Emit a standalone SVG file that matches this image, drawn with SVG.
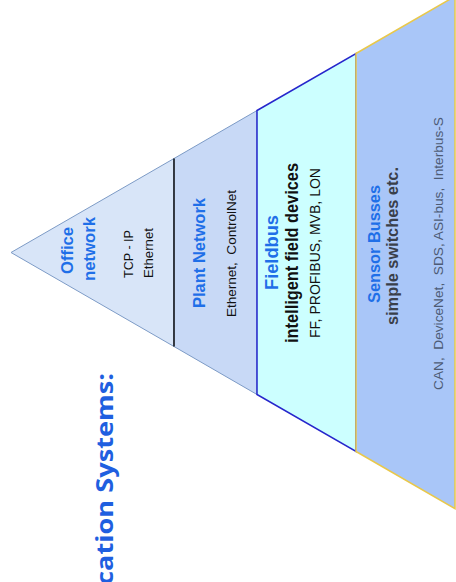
<svg xmlns="http://www.w3.org/2000/svg" width="456" height="582" viewBox="0 0 456 582">
<style>
.t{font-family:"Liberation Sans",Arial,sans-serif;text-anchor:middle}
.h{font-weight:bold;fill:#1f6fe8}
.b{fill:#111}
.g{fill:#4d5b75}
</style>
<rect width="456" height="582" fill="#fff"/>
<g id="office">
<polygon points="11,252.5 174,158.5 174,346.5" fill="#d8e5f8" stroke="#7d9bc6" stroke-width="1"/>
<text class="t h" font-size="16.5" textLength="47" lengthAdjust="spacingAndGlyphs" transform="translate(73,250.5) rotate(-90)">Office</text>
<text class="t h" font-size="16.5" textLength="64" lengthAdjust="spacingAndGlyphs" transform="translate(95,249) rotate(-90)">network</text>
<text class="t b" font-size="13" textLength="48" lengthAdjust="spacingAndGlyphs" transform="translate(133,254) rotate(-90)">TCP - IP</text>
<text class="t b" font-size="13" textLength="50" lengthAdjust="spacingAndGlyphs" transform="translate(153,253) rotate(-90)">Ethernet</text>
</g>
<g id="plant">
<polygon points="174,158.5 257,110.5 257,394.5 174,346.5" fill="#c8d9f6" stroke="#7d9bc6" stroke-width="1"/>
<line x1="174" y1="158.5" x2="174" y2="346.5" stroke="#111" stroke-width="1.5"/>
<text class="t h" font-size="16.5" textLength="110" lengthAdjust="spacingAndGlyphs" transform="translate(205,253) rotate(-90)">Plant Network</text>
<text class="t b" font-size="13.5" textLength="127" lengthAdjust="spacingAndGlyphs" xml:space="preserve" transform="translate(236,253.5) rotate(-90)">Ethernet,  ControlNet</text>
</g>
<g id="fieldbus">
<polygon points="257,110.5 356,53.5 356,451.5 257,394.5" fill="#ccffff" stroke="#2626cc" stroke-width="1.5"/>
<text class="t h" font-size="18.5" textLength="75" lengthAdjust="spacingAndGlyphs" transform="translate(278,252.5) rotate(-90)">Fieldbus</text>
<text class="t b" font-size="18" font-weight="bold" textLength="180" lengthAdjust="spacingAndGlyphs" transform="translate(298,253) rotate(-90)">intelligent field devices</text>
<text class="t b" font-size="14" textLength="170" lengthAdjust="spacingAndGlyphs" transform="translate(320,253) rotate(-90)">FF, PROFIBUS, MVB, LON</text>
</g>
<g id="sensor">
<polygon points="356,53.5 455,-3.7 455,508.7 356,451.5" fill="#a9c6f8" stroke="#e9c84a" stroke-width="1.5"/>
<text class="t h" font-size="16.5" textLength="118" lengthAdjust="spacingAndGlyphs" transform="translate(380,244) rotate(-90)">Sensor Busses</text>
<text class="t" font-size="16.5" font-weight="bold" fill="#3a3f4a" textLength="158" lengthAdjust="spacingAndGlyphs" transform="translate(398,246) rotate(-90)">simple switches etc.</text>
<text class="t g" font-size="13.5" textLength="273" lengthAdjust="spacingAndGlyphs" xml:space="preserve" transform="translate(443,253.5) rotate(-90)">CAN,  DeviceNet,  SDS, ASI-bus,  Interbus-S</text>
</g>
<g id="title">
<text font-family="'Open Sans','Liberation Sans',sans-serif" font-weight="bold" font-size="24" fill="#1f5fe0" text-anchor="end" textLength="212" lengthAdjust="spacingAndGlyphs" transform="translate(113,373) rotate(-90)">cation Systems:</text>
</g>
</svg>
